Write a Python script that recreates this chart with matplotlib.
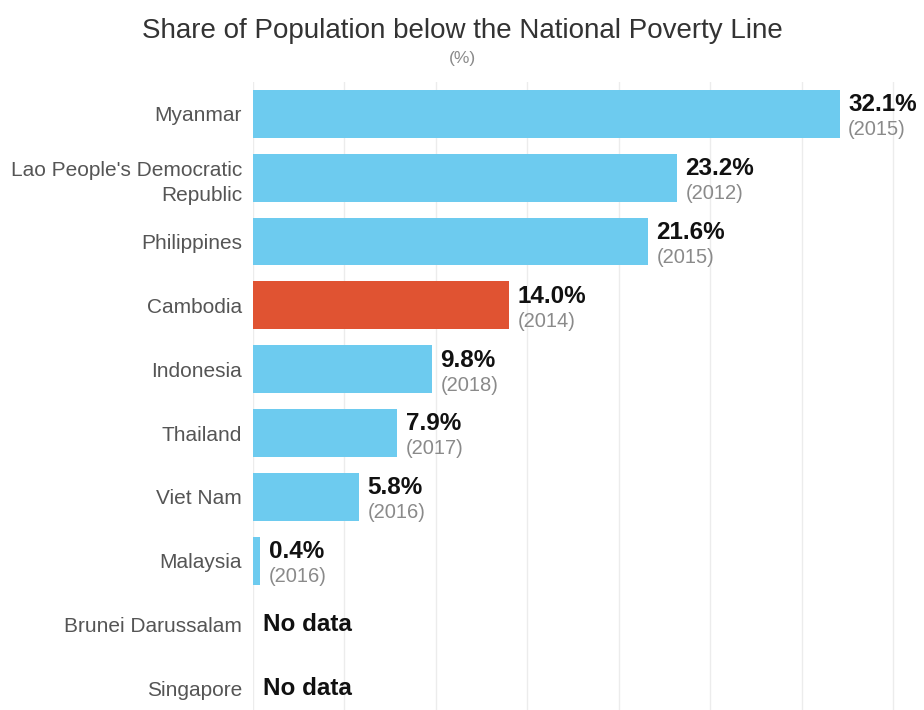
import numpy as np
import matplotlib
matplotlib.use("Agg")
import matplotlib.pyplot as plt

plt.rcParams['font.family'] = ['Liberation Sans', 'DejaVu Sans']

countries = ["Myanmar", "Lao People's Democratic\nRepublic", "Philippines", "Cambodia",
             "Indonesia", "Thailand", "Viet Nam", "Malaysia", "Brunei Darussalam", "Singapore"]
share = [32.1, 23.2, 21.6, 14.0, 9.8, 7.9, 5.8, 0.4, None, None]
years = [2015, 2012, 2015, 2014, 2018, 2017, 2016, 2016, None, None]
highlight = "Cambodia"

BLUE = "#6dcbef"
RED = "#e05332"

fig = plt.figure(figsize=(9.24, 7.10), dpi=100)
ax = fig.add_axes([253 / 924, 0.0, 1 - 253 / 924, 1 - 82 / 710])

ypos = np.arange(len(countries))
for y, name, v, yr in zip(ypos, countries, share, years):
    if v is None:
        ax.annotate("No data", (0, y), xytext=(7, 0), textcoords="offset points",
                    ha="left", va="center", fontsize=17.5, fontweight="bold", color="#111111")
        continue
    ax.barh(y, v, height=0.75, color=RED if name == highlight else BLUE, zorder=2)
    ax.annotate(f"{v:.1f}%", (v, y), xytext=(6, 6.5), textcoords="offset points",
                ha="left", va="center", fontsize=17.5, fontweight="bold", color="#111111")
    ax.annotate(f"({yr})", (v, y), xytext=(6, -11.5), textcoords="offset points",
                ha="left", va="center", fontsize=14.5, color="#8a8a8a")

ax.set_xlim(0, 36.7)
ax.set_ylim(9.34, -0.5)
ax.set_xticks(np.arange(0, 36, 5))
ax.xaxis.grid(True, color="#ececec", linewidth=1, zorder=0)
ax.set_axisbelow(True)
ax.tick_params(axis="x", length=0, labelbottom=False)
ax.set_yticks(ypos)
ax.set_yticklabels(countries, fontsize=15, color="#555555", linespacing=1.4)
ax.tick_params(axis="y", length=0, pad=8)
for s in ax.spines.values():
    s.set_visible(False)

fig.text(0.5, 1 - 31 / 710, "Share of Population below the National Poverty Line",
         ha="center", va="center", fontsize=20, color="#333333")
fig.text(0.5, 1 - 58 / 710, "(%)", ha="center", va="center", fontsize=12.5, color="#8a8a8a")

fig.savefig("out.png", dpi=100)
